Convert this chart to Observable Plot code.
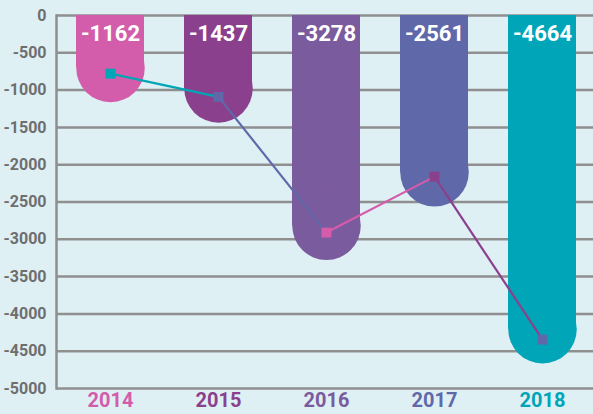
<!DOCTYPE html>
<html>
<head>
<meta charset="utf-8">
<script src="https://cdn.jsdelivr.net/npm/d3@7"></script>
<script src="https://cdn.jsdelivr.net/npm/@observablehq/plot@0.6"></script>
<style>
  html, body { margin: 0; padding: 0; background: #dff0f5; }
  #chart { width: 593px; height: 414px; overflow: hidden; }
</style>
</head>
<body>
<div id="chart"></div>
<script>
const years = ["2014", "2015", "2016", "2017", "2018"];
const barValues = [-1162, -1437, -3278, -2561, -4664];
const lineValues = [-780, -1090, -2910, -2160, -4345];
const yTicks = [0, -500, -1000, -1500, -2000, -2500, -3000, -3500, -4000, -4500, -5000];
const barColors = ["#d35cab", "#8b408d", "#7a5b9d", "#5f69aa", "#00a6b8"];
const markerColors = ["#00a6b5", "#5f69aa", "#d35cab", "#8b408d", "#5f69aa"];

const bars = years.map((year, i) => ({year, value: barValues[i], color: barColors[i]}));
const points = years.map((year, i) => ({year, value: lineValues[i], color: markerColors[i]}));
const segments = points.slice(0, -1).map((p, i) => ({
  from: p.year, to: points[i + 1].year, v1: p.value, v2: points[i + 1].value, color: p.color
}));

const W = 593, H = 414;
const radius = 34.25;
const grid = "#8f8f8f";
const font = "Roboto, 'Noto Sans', sans-serif";

const chart = Plot.plot({
  width: W,
  height: H,
  marginLeft: 56,
  marginRight: 0,
  marginTop: 15,
  marginBottom: 26,
  style: {background: "#dff0f5", fontFamily: font, overflow: "visible"},
  x: {domain: years, range: [56, 596], paddingInner: 0.366, paddingOuter: 0.183, axis: null},
  y: {domain: [-5000, 0], axis: null},
  color: {type: "identity"},
  marks: [
    Plot.ruleY(yTicks, {stroke: grid, strokeWidth: 2.5}),
    Plot.barY(bars, {x: "year", y1: 0, y2: "value", fill: "color", insetBottom: radius}),
    Plot.dot(bars, {x: "year", y: "value", r: radius, dy: -radius, fill: "color", stroke: null}),
    Plot.frame({anchor: "left", stroke: grid, strokeWidth: 2.5}),
    Plot.link(segments, {x1: "from", x2: "to", y1: "v1", y2: "v2", stroke: "color", strokeWidth: 2.2}),
    Plot.dot(points, {x: "year", y: "value", symbol: "square", r: 5.6, fill: "color", stroke: null}),
    Plot.text(bars, {x: "year", y: 0, text: d => String(d.value), dy: 18, fill: "white",
      fontSize: 22, fontWeight: "bold"}),
    Plot.text(yTicks, {y: d => d, text: d => String(d), frameAnchor: "left", dx: -10,
      textAnchor: "end", fill: "#6e6e6e", fontSize: 16, fontWeight: "bold"}),
    Plot.text(bars, {x: "year", text: "year", frameAnchor: "bottom", dy: 18,
      fill: "color", fontSize: 20, fontWeight: "bold"})
  ]
});
document.getElementById("chart").appendChild(chart);
</script>
</body>
</html>
